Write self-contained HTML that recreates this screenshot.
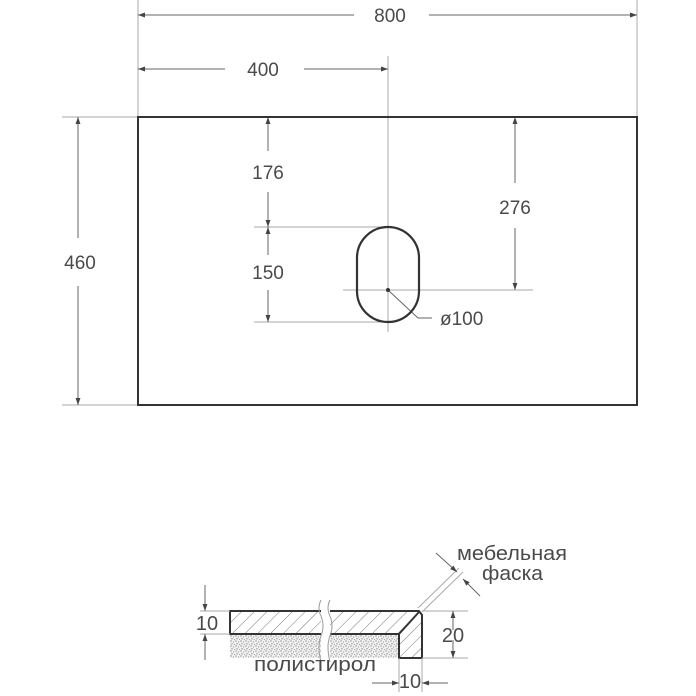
<!DOCTYPE html>
<html><head><meta charset="utf-8"><style>
html,body{margin:0;padding:0;background:#fff}
svg{display:block}
text{font-family:"Liberation Sans",sans-serif;fill:#4a4a4a}
</style></head><body>
<svg width="696" height="696" viewBox="0 0 696 696" xmlns="http://www.w3.org/2000/svg">
<defs>
<marker id="a" viewBox="0 0 10 10" refX="10" refY="5" markerWidth="9" markerHeight="7" orient="auto-start-reverse" markerUnits="userSpaceOnUse"><path d="M0,1.5L10,5L0,8.5z" fill="#444"/></marker>
<pattern id="h" width="9" height="9" patternUnits="userSpaceOnUse" patternTransform="rotate(45)"><line x1="0" y1="0" x2="0" y2="9" stroke="#555" stroke-width="0.8"/></pattern>
<pattern id="s" width="5" height="5" patternUnits="userSpaceOnUse"><rect width="5" height="5" fill="#f2f2f2"/><circle cx="1" cy="1" r="0.6" fill="#666"/><circle cx="3.6" cy="2" r="0.55" fill="#777"/><circle cx="2" cy="3.8" r="0.6" fill="#666"/><circle cx="4.4" cy="4.5" r="0.5" fill="#888"/></pattern>
</defs>
<g stroke="#aaa" stroke-width="1" fill="none">
<line x1="138" y1="0" x2="138" y2="117"/>
<line x1="637" y1="0" x2="637" y2="117"/>
<line x1="388" y1="56" x2="388" y2="332"/>
<line x1="62" y1="117" x2="138" y2="117"/>
<line x1="62" y1="405" x2="138" y2="405"/>
<line x1="254" y1="227" x2="388" y2="227"/>
<line x1="254" y1="322" x2="388" y2="322"/>
<line x1="343" y1="290" x2="533" y2="290"/>
</g>
<g stroke="#666" stroke-width="1" fill="none">
<line x1="138" y1="15" x2="354" y2="15" marker-start="url(#a)"/>
<line x1="429" y1="15" x2="637" y2="15" marker-end="url(#a)"/>
<line x1="138" y1="69" x2="225" y2="69" marker-start="url(#a)"/>
<line x1="304" y1="69" x2="388" y2="69" marker-end="url(#a)"/>
<line x1="78" y1="117" x2="78" y2="238" marker-start="url(#a)"/>
<line x1="78" y1="286" x2="78" y2="405" marker-end="url(#a)"/>
<line x1="268" y1="117" x2="268" y2="151" marker-start="url(#a)"/>
<line x1="268" y1="192" x2="268" y2="227" marker-end="url(#a)"/>
<line x1="268" y1="227" x2="268" y2="255" marker-start="url(#a)"/>
<line x1="268" y1="290" x2="268" y2="322" marker-end="url(#a)"/>
<line x1="515" y1="117" x2="515" y2="183" marker-start="url(#a)"/>
<line x1="515" y1="228" x2="515" y2="290" marker-end="url(#a)"/>
<polyline points="388,290 418,318 432,318"/>
</g>
<rect x="138" y="117" width="499" height="288" fill="none" stroke="#333" stroke-width="2"/>
<rect x="357" y="227" width="62" height="95" rx="31" ry="31" fill="none" stroke="#333" stroke-width="2.2"/>
<circle cx="388" cy="290" r="2" fill="#333"/>
<g font-size="19">
<text x="390" y="22" text-anchor="middle">800</text>
<text x="263" y="76" text-anchor="middle">400</text>
<text x="80" y="269" text-anchor="middle">460</text>
<text x="268" y="179" text-anchor="middle">176</text>
<text x="268" y="279" text-anchor="middle">150</text>
<text x="515" y="214" text-anchor="middle">276</text>
<text x="440" y="325">ø100</text>
</g>
<rect x="230" y="634" width="169" height="24" fill="url(#s)"/>
<path d="M230,611 L419,611 L399,634 L230,634 Z" fill="url(#h)"/>
<path d="M399,634 L419,612 L422,615 L422,658 L399,658 Z" fill="url(#h)"/>
<path d="M230,634 L230,611 L419,611 L422,615 L422,658 L399,658 L399,634 Z M399,634 L419,612" fill="none" stroke="#333" stroke-width="2"/>
<line x1="230" y1="634" x2="399" y2="634" stroke="#333" stroke-width="2"/>
<rect x="321" y="600" width="9" height="62" fill="#fff"/>
<path d="M321,600 q-4,8 0,16 q4,10 0,20 q-4,10 0,26 M330,600 q-4,8 0,16 q4,10 0,20 q-4,10 0,26" fill="none" stroke="#999" stroke-width="1"/>
<g stroke="#aaa" stroke-width="1" fill="none">
<line x1="200" y1="611" x2="230" y2="611"/>
<line x1="200" y1="634" x2="230" y2="634"/>
<line x1="422" y1="611" x2="468" y2="611"/>
<line x1="422" y1="658" x2="468" y2="658"/>
<line x1="399" y1="658" x2="399" y2="692"/>
<line x1="422" y1="658" x2="422" y2="692"/>
<line x1="422" y1="612" x2="463" y2="572"/>
<line x1="418" y1="608" x2="459" y2="568"/>
</g>
<g stroke="#666" stroke-width="1" fill="none">
<line x1="205" y1="585" x2="205" y2="611" marker-end="url(#a)"/>
<line x1="205" y1="660" x2="205" y2="634" marker-end="url(#a)"/>
<line x1="453" y1="630" x2="453" y2="611" marker-end="url(#a)"/>
<line x1="453" y1="640" x2="453" y2="658" marker-end="url(#a)"/>
<line x1="372" y1="683" x2="399" y2="683" marker-end="url(#a)"/>
<line x1="448" y1="683" x2="422" y2="683" marker-end="url(#a)"/>
<line x1="436" y1="553" x2="457" y2="572" marker-end="url(#a)"/>
<line x1="480" y1="596" x2="463" y2="579" marker-end="url(#a)"/>
</g>
<g font-size="20">
<text x="207" y="630" text-anchor="middle">10</text>
<text x="453" y="642" text-anchor="middle">20</text>
<text x="410" y="688" text-anchor="middle">10</text>
<text x="254" y="671" textLength="122" lengthAdjust="spacingAndGlyphs">полистирол</text>
<text x="457" y="560" textLength="110" lengthAdjust="spacingAndGlyphs">мебельная</text>
<text x="482" y="580" textLength="61" lengthAdjust="spacingAndGlyphs">фаска</text>
</g>
</svg>
</body></html>
